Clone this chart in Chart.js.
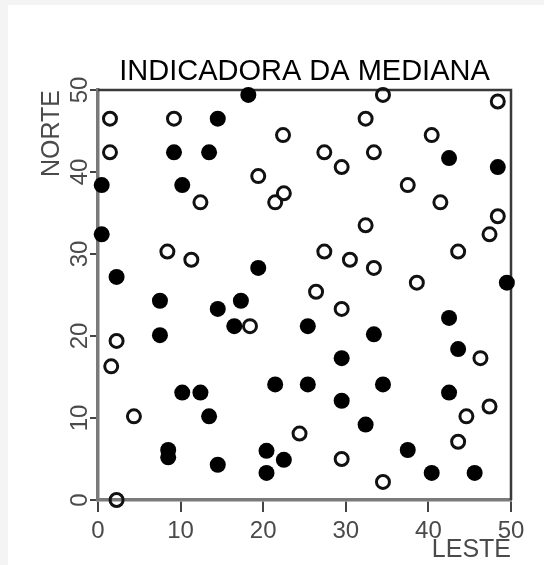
<!DOCTYPE html>
<html>
<head>
<meta charset="utf-8">
<script src="https://cdn.jsdelivr.net/npm/chart.js@4"></script>
<style>
  html, body { margin: 0; padding: 0; background: #f4f4f4; }
  canvas { display: block; }
</style>
</head>
<body>
<canvas id="grafica" width="544" height="565"></canvas>
<script>
// Puntos por encima de la mediana (rellenos) y por debajo (vacíos)
const lesteAcima = [18.2, 14.5, 9.2, 13.45, 0.45, 10.2, 0.45, 19.4, 2.25, 42.5,
  48.4, 49.5, 7.5, 14.5, 17.3, 16.5, 7.5, 21.45, 10.2, 12.4,
  13.45, 8.5, 8.5, 14.5, 20.4, 20.4, 22.5, 25.4, 33.4, 42.5,
  43.6, 29.5, 25.4, 34.5, 42.5, 29.5, 32.4, 37.5, 40.4, 45.6];
const norteAcima = [49.4, 46.5, 42.4, 42.4, 38.4, 38.4, 32.4, 28.3, 27.2, 41.7,
  40.6, 26.5, 24.3, 23.3, 24.3, 21.2, 20.1, 14.1, 13.1, 13.1,
  10.2, 6.1, 5.2, 4.3, 6.0, 3.3, 4.9, 21.2, 20.2, 22.2,
  18.4, 17.3, 14.1, 14.1, 13.1, 12.1, 9.2, 6.1, 3.3, 3.3];

const lesteAbaixo = [1.45, 9.2, 22.4, 1.45, 19.4, 12.4, 21.45, 22.5, 8.4, 11.3,
  34.5, 48.4, 32.4, 40.4, 27.4, 33.4, 29.5, 37.5, 41.45, 32.4,
  48.4, 47.4, 27.4, 30.5, 33.4, 43.6, 38.6, 26.4, 18.4, 2.25,
  1.6, 4.35, 2.25, 29.5, 46.3, 47.4, 44.6, 24.4, 43.6, 29.5, 34.5];
const norteAbaixo = [46.5, 46.5, 44.5, 42.4, 39.5, 36.3, 36.3, 37.4, 30.3, 29.3,
  49.4, 48.6, 46.5, 44.5, 42.4, 42.4, 40.6, 38.4, 36.3, 33.5,
  34.6, 32.4, 30.3, 29.3, 28.3, 30.3, 26.5, 25.4, 21.2, 19.4,
  16.3, 10.2, 0, 23.3, 17.3, 11.4, 10.2, 8.1, 7.1, 5.0, 2.2];

const ticksEixo = [0, 10, 20, 30, 40, 50];

function pares(xs, ys) {
  return xs.map((x, i) => ({ x: x, y: ys[i] }));
}

// Fondo con marco gris claro y caja del gráfico (lados superior y derecho)
const marco = {
  id: 'marco',
  beforeDraw(chart) {
    const ctx = chart.ctx;
    ctx.save();
    ctx.fillStyle = '#ffffff';
    ctx.fillRect(8, 5, chart.width - 8, chart.height - 5);
    ctx.restore();
  },
  beforeDatasetsDraw(chart) {
    const { ctx, chartArea: a } = chart;
    ctx.save();
    ctx.strokeStyle = '#3a3a3a';
    ctx.lineWidth = 2.5;
    ctx.beginPath();
    ctx.moveTo(a.left, a.top);
    ctx.lineTo(a.right, a.top);
    ctx.lineTo(a.right, a.bottom);
    ctx.stroke();
    ctx.restore();
  }
};

const fuenteTicks = { family: 'Liberation Sans, Arial, sans-serif', size: 24 };
const fuenteTitulos = { family: 'Liberation Sans, Arial, sans-serif', size: 25 };

new Chart(document.getElementById('grafica'), {
  type: 'scatter',
  data: {
    datasets: [{
      label: 'Acima',
      data: pares(lesteAcima, norteAcima),
      backgroundColor: '#000000',
      borderColor: '#000000',
      borderWidth: 0,
      pointRadius: 8,
      clip: false
    }, {
      label: 'Abaixo',
      data: pares(lesteAbaixo, norteAbaixo),
      backgroundColor: 'rgba(0,0,0,0)',
      borderColor: '#111111',
      borderWidth: 3,
      pointRadius: 6.5,
      clip: false
    }]
  },
  options: {
    responsive: false,
    animation: false,
    layout: { padding: { left: 0, top: 0, right: 33, bottom: 0 } },
    plugins: {
      legend: { display: false },
      tooltip: { enabled: false },
      title: {
        display: true,
        text: 'INDICADORA DA MEDIANA',
        fullSize: false,
        color: '#000000',
        font: { family: 'Liberation Sans, Arial, sans-serif', size: 29, weight: 'normal' },
        padding: { top: 55, bottom: 0.2 }
      }
    },
    scales: {
      x: {
        type: 'linear',
        min: 0,
        max: 50,
        afterFit(scale) { scale.height = 65; },
        afterBuildTicks(scale) { scale.ticks = ticksEixo.map(v => ({ value: v })); },
        ticks: { color: '#4a4a4a', font: fuenteTicks, padding: 5, maxRotation: 0 },
        grid: { display: true, drawOnChartArea: false, drawTicks: true, tickLength: 12, color: '#444444', lineWidth: 2 },
        border: { display: true, color: '#7a7a7a', width: 3.5 },
        title: { display: true, text: 'LESTE', align: 'end', color: '#4a4a4a', font: fuenteTitulos, padding: { top: 0, bottom: 0 } }
      },
      y: {
        type: 'linear',
        min: 0,
        max: 50,
        afterFit(scale) { scale.width = 98; },
        afterBuildTicks(scale) { scale.ticks = ticksEixo.map(v => ({ value: v })); },
        ticks: { color: '#4a4a4a', font: fuenteTicks, padding: -4, minRotation: 90, maxRotation: 90, crossAlign: 'center' },
        grid: { display: true, drawOnChartArea: false, drawTicks: true, tickLength: 8, color: '#444444', lineWidth: 2 },
        border: { display: true, color: '#7a7a7a', width: 3.5 },
        title: { display: true, text: 'NORTE', align: 'end', color: '#4a4a4a', font: fuenteTitulos, padding: { top: 37, bottom: 0 } }
      }
    }
  },
  plugins: [marco]
});
</script>
</body>
</html>
